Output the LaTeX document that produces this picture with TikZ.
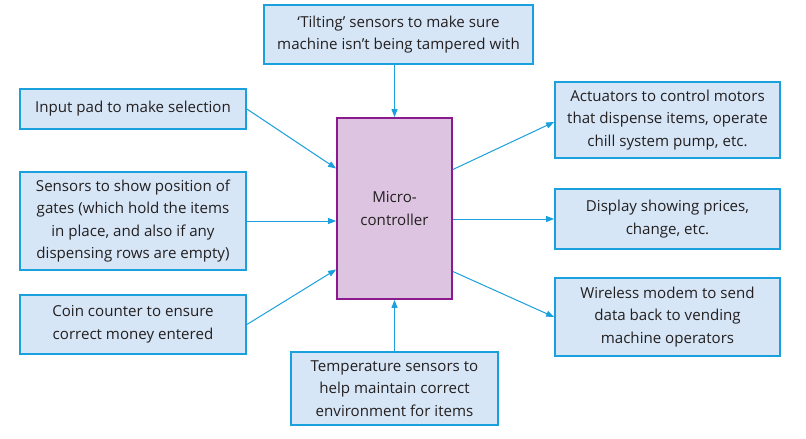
\documentclass[tikz,border=0pt]{standalone}
\usepackage{fontspec}
\setmainfont{Open Sans}
\usetikzlibrary{arrows.meta,calc}
\definecolor{boxfill}{HTML}{D6E6F6}
\definecolor{boxline}{HTML}{1AA0DC}
\definecolor{mcfill}{HTML}{DDC5E2}
\definecolor{mcline}{HTML}{8B1A8F}
\definecolor{txt}{HTML}{231F20}
\begin{document}
\begin{tikzpicture}[x=1pt,y=-1pt,
  infobox/.style={draw=boxline,fill=boxfill,line width=1.8pt,align=center,inner sep=2pt,font=\fontsize{15.1}{22.5}\selectfont,text=txt},
  conn/.style={draw=boxline,line width=1pt,-{Triangle[length=8pt,width=6pt]}}]
\useasboundingbox (0,0) rectangle (806,439);
\node[infobox,minimum width=269pt,minimum height=59pt] (top) at (398.5,34.5) {‘Tilting’ sensors to make sure\\machine isn’t being tampered with};
\node[infobox,minimum width=226pt,minimum height=40pt] (inp) at (133,109) {Input pad to make selection};
\node[infobox,minimum width=226pt,minimum height=98pt] (sen) at (133,221) {Sensors to show position of\\gates (which hold the items\\in place, and also if any\\dispensing rows are empty)};
\node[infobox,minimum width=226pt,minimum height=59pt] (coin) at (133,324.5) {Coin counter to ensure\\correct money entered};
\node[draw=mcline,fill=mcfill,line width=1.8pt,minimum width=115pt,minimum height=181pt,align=center,font=\fontsize{15.1}{22.5}\selectfont,text=txt] (mc) at (394.5,208.5) {Micro-\\controller};
\node[infobox,minimum width=225pt,minimum height=76pt] (act) at (667.5,120) {Actuators to control motors\\that dispense items, operate\\chill system pump, etc.};
\node[infobox,minimum width=225pt,minimum height=60pt] (disp) at (667.5,219) {Display showing prices,\\change, etc.};
\node[infobox,minimum width=225pt,minimum height=78pt] (wl) at (667.5,317) {Wireless modem to send\\data back to vending\\machine operators};
\node[infobox,minimum width=207pt,minimum height=73pt] (temp) at (394.5,388.5) {Temperature sensors to\\help maintain correct\\environment for items};
\draw[conn] (top.south -| mc.north) -- (mc.north);
\draw[conn] (inp.east) -- ($(mc.west)+(0,-40)$);
\draw[conn] (sen.east) -- (sen.east -| mc.west);
\draw[conn] (coin.east) -- ($(mc.west)+(0,61)$);
\draw[conn] (temp.north -| mc.south) -- (mc.south);
\draw[conn] ($(mc.east)+(0,-39)$) -- ($(act.west)+(0,2)$);
\draw[conn] (mc.east |- disp.west) -- (disp.west);
\draw[conn] ($(mc.east)+(0,63)$) -- (wl.west);
\end{tikzpicture}
\end{document}
